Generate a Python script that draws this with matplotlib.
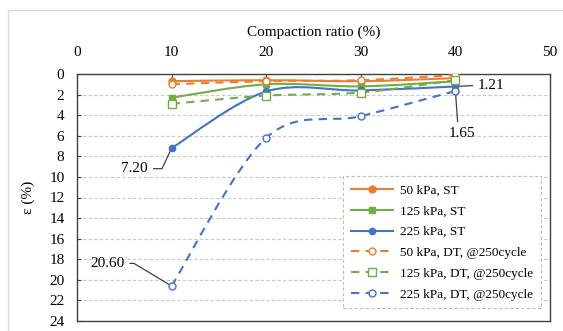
import matplotlib
matplotlib.use("Agg")
import matplotlib.pyplot as plt
from matplotlib.path import Path
from matplotlib.patches import PathPatch, Rectangle
from matplotlib.lines import Line2D
import numpy as np

plt.rcParams['font.family'] = ['Liberation Serif', 'DejaVu Serif']

# compaction ratio (%)
ratio = [10, 20, 30, 40]

# strain (%) per test
st_50 = [0.7, 0.6, 0.7, 0.4]
st_125 = [2.3, 1.0, 1.2, 0.7]
st_225 = [7.20, 1.7, 1.6, 1.21]
dt_50 = [1.0, 0.7, 0.6, 0.1]
dt_125 = [2.9, 2.1, 1.8, 0.6]
dt_225 = [20.60, 6.2, 4.1, 1.65]

labels = ["50 kPa, ST", "125 kPa, ST", "225 kPa, ST",
          "50 kPa, DT, @250cycle", "125 kPa, DT, @250cycle", "225 kPa, DT, @250cycle"]

orange = "#ED7D31"
green = "#70AD47"
blue = "#4472C4"


def smooth_path(x, y):
    # excel style smoothed line: cubic bezier segments, catmull-rom tangents
    pts = np.column_stack([x, y]).astype(float)
    n = len(pts)
    verts = [pts[0]]
    codes = [Path.MOVETO]
    for i in range(n - 1):
        p0 = pts[i - 1] if i > 0 else pts[i]
        p1 = pts[i]
        p2 = pts[i + 1]
        p3 = pts[i + 2] if i + 2 < n else pts[i + 1]
        c1 = p1 + (p2 - p0) / 6.0
        c2 = p2 - (p3 - p1) / 6.0
        verts += [c1, c2, p2]
        codes += [Path.CURVE4] * 3
    return Path(verts, codes)


fig = plt.figure(figsize=(5.63, 3.31), dpi=100)
ax = fig.add_axes([77 / 563, 1 - 321 / 331, 473 / 563, 247 / 331])

series = [
    (st_50, orange, '-', 'o', orange, 5),
    (st_125, green, '-', 's', green, 5),
    (st_225, blue, '-', 'o', blue, 4.5),
    (dt_50, orange, (0, (4, 3)), 'o', 'white', 5),
    (dt_125, green, (0, (4, 3)), 's', 'white', 6),
    (dt_225, blue, (0, (4, 3)), 'o', 'white', 5),
]

handles = []
for (vals, col, ls, mk, mfc, ms), lab in zip(series, labels):
    patch = PathPatch(smooth_path(ratio, vals), facecolor='none', edgecolor=col,
                      lw=1.5, linestyle=ls, zorder=3)
    ax.add_patch(patch)
    ax.plot(ratio, vals, linestyle='none', marker=mk, ms=ms, mfc=mfc, mec=col,
            mew=1.0, zorder=4)
    handles.append(Line2D([], [], color=col, lw=1.5, linestyle=ls, marker=mk,
                          ms=ms, mfc=mfc, mec=col, mew=1.0))

ax.set_xlim(0, 50)
ax.set_ylim(24, 0)
ax.set_xticks(np.arange(0, 51, 10))
ax.set_yticks(np.arange(0, 25, 2))
ax.xaxis.tick_top()
ax.xaxis.set_label_position('top')
ax.set_xlabel("Compaction ratio (%)", fontsize=11, labelpad=7)
ax.set_ylabel("ε (%)", fontsize=11, labelpad=10)
ax.tick_params(axis='both', labelsize=11, direction='in', length=3,
               color='#404040')
ax.tick_params(axis='x', pad=11)
ax.tick_params(axis='y', pad=9)
ax.yaxis.grid(True, color='#c8c8c8', linestyle=(0, (3, 2)), lw=0.8)
ax.set_axisbelow(True)
for s in ax.spines.values():
    s.set_color('#404040')
    s.set_linewidth(1.0)

# data labels with leader lines
lead = dict(arrowstyle='-', color='#404040', lw=0.9, shrinkA=2, shrinkB=0)
ax.annotate("7.20", xy=(10, 7.20), xytext=(6.1, 9.2), fontsize=11,
            ha='center', va='center',
            arrowprops=dict(lead, relpos=(1, 0.5),
                            connectionstyle='angle,angleA=0,angleB=65,rad=0'))
ax.annotate("20.60", xy=(10, 20.60), xytext=(3.2, 18.4), fontsize=11,
            ha='center', va='center',
            arrowprops=dict(lead, relpos=(1, 0.5),
                            connectionstyle='angle,angleA=0,angleB=149,rad=0'))
ax.annotate("1.21", xy=(40, 1.21), xytext=(42.4, 1.1), fontsize=11,
            ha='left', va='center',
            arrowprops=dict(lead, relpos=(0, 0.5)))
ax.annotate("1.65", xy=(40, 1.65), xytext=(40.7, 5.8), fontsize=11,
            ha='center', va='center',
            arrowprops=dict(lead, relpos=(0.35, 1)))

leg = ax.legend(handles, labels, loc='lower right',
                bbox_to_anchor=(0.994, 0.024), fontsize=9.5, handlelength=3.2,
                labelspacing=0.65, borderpad=0.6, handletextpad=0.5,
                fancybox=False, framealpha=1, edgecolor='#bfbfbf')
leg.get_frame().set_linestyle((0, (3, 2)))
leg.get_frame().set_linewidth(0.8)
leg.set_zorder(6)

# chart area border
fig.patches.append(Rectangle((8 / 563, -0.1), 1.0, 1.1 - 10 / 331,
                             transform=fig.transFigure, fill=False,
                             edgecolor='#d9d9d9', lw=1.0))

fig.savefig("out.png", dpi=100)
